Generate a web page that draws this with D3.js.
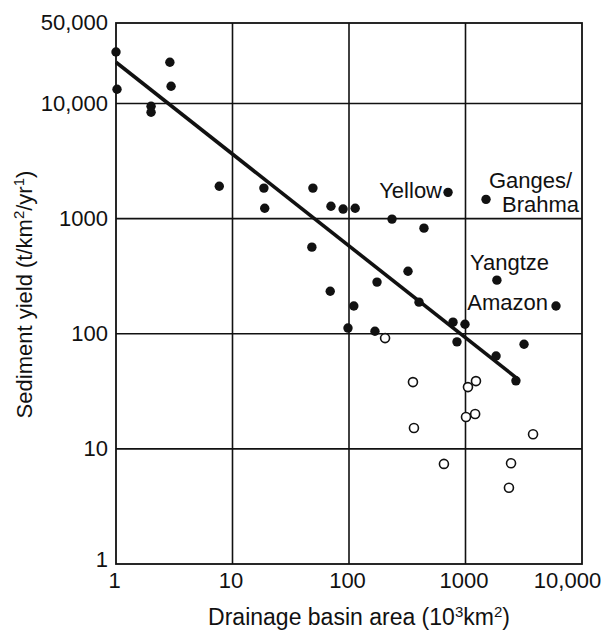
<!DOCTYPE html>
<html>
<head>
<meta charset="utf-8">
<script src="https://cdn.jsdelivr.net/npm/d3@7/dist/d3.min.js"></script>
<style>
  html, body { margin: 0; padding: 0; background: #fff; }
  svg { display: block; }
  text { font-family: "Liberation Sans", Arial, Helvetica, sans-serif; fill: #111; }
</style>
</head>
<body>
<svg id="chart" width="608" height="639"></svg>
<script>
// Drainage basin area (10^3 km^2) and sediment yield (t/km^2/yr) for rivers
const filledArea  = [1, 1.02, 2.0, 2.0, 2.9, 2.97, 7.7, 18.6, 18.9, 49, 48, 70, 89, 113, 234, 440,
                     69, 174, 321, 110, 399, 98, 167, 781, 990, 845, 3180, 1830, 2710];
const filledYield = [28000, 13300, 9460, 8390, 22800, 14100, 1910, 1840, 1230, 1840, 565, 1280, 1210, 1230, 990, 826,
                     234, 281, 349, 174, 188, 112, 105, 126, 121, 85, 81, 64, 39];

// Large rivers labelled by name
const namedRivers = ["Yellow", "Ganges/Brahma", "Yangtze", "Amazon"];
const namedArea   = [708, 1500, 1860, 5980];
const namedYield  = [1690, 1470, 292, 174];

// Open symbols
const openArea  = [204, 354, 361, 653, 1050, 1230, 1010, 1210, 3800, 2460, 2360];
const openYield = [91.6, 38, 15.2, 7.4, 34.4, 38.8, 18.9, 20.1, 13.4, 7.5, 4.6];

// Fitted trend line end points
const trendArea  = [1, 2820];
const trendYield = [22800, 40.4];

// Axis ticks
const xTicks = [1, 10, 100, 1000, 10000];
const yTicks = [1, 10, 100, 1000, 10000, 50000];
const fmt = d => d >= 10000 ? d3.format(",")(d) : String(d);

const svg = d3.select("#chart");
const mLeft = 116, mRight = 582, mTop = 23, mBottom = 564;

const x = d3.scaleLog().domain([1, 10000]).range([mLeft, mRight]);
const y = d3.scaleLog().domain([1, 50000]).range([mBottom, mTop]);

const ink = "#111";

// grid lines at each decade
const g = svg.append("g");
g.selectAll("line.vx").data([10, 100, 1000]).join("line")
  .attr("x1", d => x(d)).attr("x2", d => x(d))
  .attr("y1", mTop).attr("y2", mBottom)
  .attr("stroke", ink).attr("stroke-width", 1.6);
g.selectAll("line.hy").data([10, 100, 1000, 10000]).join("line")
  .attr("x1", mLeft).attr("x2", mRight)
  .attr("y1", d => y(d)).attr("y2", d => y(d))
  .attr("stroke", ink).attr("stroke-width", 1.6);

// frame
svg.append("rect")
  .attr("x", mLeft).attr("y", mTop)
  .attr("width", mRight - mLeft).attr("height", mBottom - mTop)
  .attr("fill", "none").attr("stroke", ink).attr("stroke-width", 1.8);

// axes (labels only, the frame and grid carry the lines)
const xAxis = svg.append("g")
  .attr("transform", `translate(0,${mBottom})`)
  .call(d3.axisBottom(x).tickValues(xTicks).tickFormat(fmt).tickSize(0).tickPadding(8));
xAxis.select(".domain").remove();
xAxis.selectAll("text")
  .attr("font-size", 22)
  .attr("font-family", "Liberation Sans, Arial, sans-serif")
  .attr("fill", ink)
  .attr("dx", d => d === 10000 ? -15 : -2);

const yAxis = svg.append("g")
  .attr("transform", `translate(${mLeft},0)`)
  .call(d3.axisLeft(y).tickValues(yTicks).tickFormat(fmt).tickSize(0).tickPadding(8));
yAxis.select(".domain").remove();
yAxis.selectAll("text")
  .attr("font-size", 22)
  .attr("font-family", "Liberation Sans, Arial, sans-serif")
  .attr("fill", ink)
  .attr("y", d => d === 1 ? -5 : (d === 50000 ? -1 : 0));

// trend line
svg.append("line")
  .attr("x1", x(trendArea[0])).attr("y1", y(trendYield[0]))
  .attr("x2", x(trendArea[1])).attr("y2", y(trendYield[1]))
  .attr("stroke", ink).attr("stroke-width", 3.6);

// filled points
svg.append("g").selectAll("circle").data(filledArea.map((a, i) => [a, filledYield[i]])).join("circle")
  .attr("cx", d => x(d[0])).attr("cy", d => y(d[1])).attr("r", 4.7).attr("fill", ink);

// named rivers
svg.append("g").selectAll("circle").data(namedArea.map((a, i) => [a, namedYield[i]])).join("circle")
  .attr("cx", d => x(d[0])).attr("cy", d => y(d[1])).attr("r", 4.7).attr("fill", ink);

// open points
svg.append("g").selectAll("circle").data(openArea.map((a, i) => [a, openYield[i]])).join("circle")
  .attr("cx", d => x(d[0])).attr("cy", d => y(d[1])).attr("r", 4.5)
  .attr("fill", "#fff").attr("stroke", ink).attr("stroke-width", 1.6);

// river labels
const lab = svg.append("g").attr("font-size", 22);
const px = i => x(namedArea[i]), py = i => y(namedYield[i]);
lab.append("text").attr("x", px(0) - 6).attr("y", py(0) + 6).attr("text-anchor", "end").text("Yellow");
lab.append("text").attr("x", px(1) + 3).attr("y", py(1) - 11).text("Ganges/");
lab.append("text").attr("x", px(1) + 16).attr("y", py(1) + 13).text("Brahma");
lab.append("text").attr("x", px(2) - 27).attr("y", py(2) - 10).text("Yangtze");
lab.append("text").attr("x", px(3) - 8).attr("y", py(3) + 4).attr("text-anchor", "end").text("Amazon");

// axis titles
const xt = svg.append("text")
  .attr("x", 359).attr("y", 625).attr("text-anchor", "middle").attr("font-size", 23);
xt.append("tspan").text("Drainage basin area (10");
xt.append("tspan").attr("font-size", 15).attr("dy", -8).text("3");
xt.append("tspan").attr("dy", 8).text("km");
xt.append("tspan").attr("font-size", 15).attr("dy", -8).text("2");
xt.append("tspan").attr("dy", 8).text(")");

const yt = svg.append("text")
  .attr("transform", `translate(32,${(mTop + mBottom) / 2 + 1}) rotate(-90)`)
  .attr("text-anchor", "middle").attr("font-size", 22);
yt.append("tspan").text("Sediment yield (t/km");
yt.append("tspan").attr("font-size", 15).attr("dy", -8).text("2");
yt.append("tspan").attr("dy", 8).text("/yr");
yt.append("tspan").attr("font-size", 15).attr("dy", -8).text("1");
yt.append("tspan").attr("dy", 8).text(")");
</script>
</body>
</html>
